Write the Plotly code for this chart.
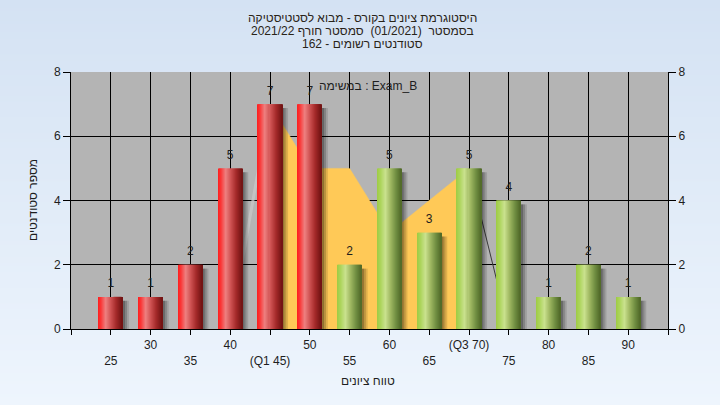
import base64
import struct
import zlib
import plotly.graph_objects as go

# ---------------- data ----------------
categories = [25, 30, 35, 40, 45, 50, 55, 60, 65, 70, 75, 80, 85, 90]
counts = [1, 1, 2, 5, 7, 7, 2, 5, 3, 5, 4, 1, 2, 1]
tick_labels = ["25", "30", "35", "40", "(Q1 45)", "50", "55", "60", "65",
               "(Q3 70)", "75", "80", "85", "90"]
pass_mark = 55

# inter-quartile overlay (polygon)
iqr_x = [45, 50, 55, 60, 65, 70]
iqr_y = [7, 5, 5, 3, 4, 5]
tail_left_x = [40, 45]
tail_left_y = [0, 7]
tail_right_x = [70, 75]
tail_right_y = [5, 0]

y_ticks = [0, 2, 4, 6, 8]

title_lines = [
    "היסטוגרמת ציונים בקורס - מבוא לסטטיסטיקה",
    "בסמסטר  (01/2021)  סמסטר חורף 2021/22",
    "סטודנטים רשומים - 162",
]
x_title = "טווח ציונים"
y_title = "מספר סטודנטים"
task_label = "במשימה : Exam_B"

# ---------------- styling ----------------
FONT = "Liberation Sans, Arial, sans-serif"
TXT = "#1e1e1e"
W, H = 720, 405
ML, MR, MT, MB = 71, 52, 72, 76
PW, PH = W - ML - MR, H - MT - MB

def px_x(px):
    return (px - ML) / PW

def px_y(py):
    return (H - MB - py) / PH

BAR_W = 3.06
N_SLICES = 24

red_stops = [(0, (255, 28, 28)), (0.12, (250, 55, 55)), (0.32, (238, 128, 128)),
             (0.5, (212, 88, 88)), (0.75, (165, 42, 42)), (1, (112, 18, 18))]
green_stops = [(0, (158, 204, 68)), (0.15, (172, 212, 92)), (0.35, (202, 226, 142)),
               (0.55, (162, 186, 100)), (0.8, (110, 140, 64)), (1, (80, 104, 40))]

def interp(stops, t):
    for (t0, c0), (t1, c1) in zip(stops[:-1], stops[1:]):
        if t0 <= t <= t1:
            f = (t - t0) / (t1 - t0)
            return "rgb(%d,%d,%d)" % tuple(round(a + (b - a) * f) for a, b in zip(c0, c1))
    return "rgb(%d,%d,%d)" % stops[-1][1]

def gradient_png(h, top, bottom):
    raw = b""
    for i in range(h):
        t = i / (h - 1)
        raw += b"\x00" + bytes(round(top[k] + (bottom[k] - top[k]) * t) for k in range(3))
    def chunk(tag, data):
        return (struct.pack(">I", len(data)) + tag + data +
                struct.pack(">I", zlib.crc32(tag + data) & 0xffffffff))
    png = (b"\x89PNG\r\n\x1a\n" +
           chunk(b"IHDR", struct.pack(">IIBBBBB", 1, h, 8, 2, 0, 0, 0)) +
           chunk(b"IDAT", zlib.compress(raw)) + chunk(b"IEND", b""))
    return "data:image/png;base64," + base64.b64encode(png).decode()

fig = go.Figure()

# overlay area (main subplot, drawn beneath the bar subplot)
fig.add_trace(go.Scatter(x=iqr_x, y=iqr_y, mode="lines", fill="tozeroy",
                         fillcolor="#ffc957", line=dict(color="#ffc957", width=0.5),
                         hoverinfo="skip", showlegend=False))
fig.add_trace(go.Scatter(x=tail_left_x, y=tail_left_y, mode="lines",
                         line=dict(color="rgba(200,200,200,0.75)", width=3),
                         hoverinfo="skip", showlegend=False))
fig.add_trace(go.Scatter(x=tail_right_x, y=tail_right_y, mode="lines",
                         line=dict(color="#3a3a3a", width=1),
                         hoverinfo="skip", showlegend=False))

# shadows (bar subplot on y2)
for k, a in enumerate([0.42, 0.26, 0.12]):
    fig.add_trace(go.Bar(x=categories, y=[c - 0.12 for c in counts], yaxis="y2",
                         offset=BAR_W / 2 + k * 0.24, width=0.26,
                         marker=dict(color="rgba(0,0,0,%.2f)" % a, line=dict(width=0)),
                         hoverinfo="skip", showlegend=False))

# cylinder bars built from slices
sw = BAR_W / N_SLICES
for i in range(N_SLICES):
    t = (i + 0.5) / N_SLICES
    cols = [interp(red_stops, t) if c < pass_mark else interp(green_stops, t)
            for c in categories]
    fig.add_trace(go.Bar(x=categories, y=counts, yaxis="y2",
                         offset=-BAR_W / 2 + i * sw,
                         width=sw * (1.15 if i < N_SLICES - 1 else 1.0),
                         marker=dict(color=cols, line=dict(width=0)),
                         hoverinfo="skip", showlegend=False))

# value labels
fig.add_trace(go.Scatter(x=categories, y=counts, yaxis="y2", mode="markers+text",
                         text=[str(c) for c in counts], textposition="top center",
                         marker=dict(size=9, opacity=0),
                         textfont=dict(family=FONT, size=12, color=TXT),
                         hoverinfo="skip", showlegend=False))

x_tickvals = [20] + categories + [95]
x_ticktext = [""] + [("<br>" + lab if i % 2 == 0 else lab)
                     for i, lab in enumerate(tick_labels)] + [""]

axis_font = dict(family=FONT, size=12, color=TXT)

annotations = []
for i, line in enumerate(title_lines):
    annotations.append(dict(text=line, xref="paper", yref="paper",
                            x=px_x(362), y=px_y(18 + 13 * i), xanchor="center",
                            yanchor="middle", showarrow=False,
                            font=dict(family=FONT, size=12, color="#2a2418")))
annotations.append(dict(text=task_label, xref="paper", yref="paper", x=px_x(368),
                        y=px_y(86), xanchor="center", yanchor="middle",
                        showarrow=False, font=dict(family=FONT, size=12, color=TXT)))
annotations.append(dict(text=x_title, xref="paper", yref="paper", x=px_x(368),
                        y=px_y(381), xanchor="center", yanchor="middle",
                        showarrow=False, font=dict(family=FONT, size=12, color=TXT)))
annotations.append(dict(text=y_title, xref="paper", yref="paper", x=px_x(33),
                        y=px_y(200), xanchor="center", yanchor="middle",
                        textangle=-90, showarrow=False,
                        font=dict(family=FONT, size=12, color=TXT)))

fig.update_layout(
    width=W, height=H,
    margin=dict(l=ML, r=MR, t=MT, b=MB, pad=0),
    paper_bgcolor="#e2ecf8",
    plot_bgcolor="#b4b4b4",
    barmode="overlay",
    hovermode=False,
    font=dict(family=FONT, size=12, color=TXT),
    xaxis=dict(range=[20, 95], tickmode="array", tickvals=x_tickvals,
               ticktext=x_ticktext, ticks="outside", ticklen=5, tickcolor="black",
               showgrid=True, gridcolor="black", gridwidth=1, showline=True,
               linecolor="black", linewidth=1, zeroline=False, tickfont=axis_font,
               fixedrange=True),
    yaxis=dict(range=[0, 8], tickmode="array", tickvals=y_ticks, ticks="outside",
               ticklen=7, tickcolor="black", showgrid=True, gridcolor="black",
               gridwidth=1, showline=True, linecolor="black", linewidth=1,
               zeroline=False, tickfont=axis_font, fixedrange=True),
    yaxis2=dict(range=[0, 8], overlaying="y", side="right", tickmode="array",
                tickvals=y_ticks, ticks="outside", ticklen=7, tickcolor="black",
                showgrid=False, showline=True, linecolor="black", linewidth=1,
                zeroline=False, tickfont=axis_font, fixedrange=True),
    annotations=annotations,
    images=[dict(source=gradient_png(H, (212, 226, 243), (238, 245, 253)),
                 xref="paper", yref="paper", x=px_x(0), y=px_y(0),
                 sizex=px_x(W) - px_x(0), sizey=px_y(0) - px_y(H),
                 xanchor="left", yanchor="top", sizing="stretch", layer="below")],
    shapes=[dict(type="rect", xref="paper", yref="paper", x0=0, x1=1, y0=0, y1=1,
                 fillcolor="#b4b4b4", line=dict(width=0), layer="below")],
)

fig.write_html("out.html", config={"displayModeBar": False},
               post_script="document.body.style.margin='0px';")
